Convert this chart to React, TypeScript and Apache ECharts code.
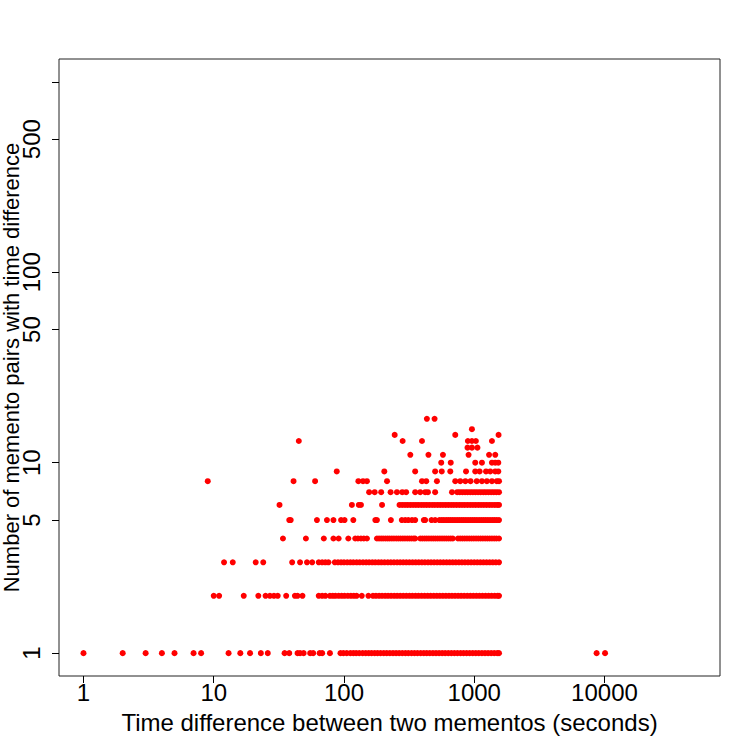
import React, { useEffect, useRef } from "react";
import * as echarts from "echarts";

// Number of memento pairs (y) observed for each time difference in seconds (x)
const timesCount1 = [1, 2, 3, 4, 5, 7, 8, 13, 16, 19, 23, 26, 35, 38, 44, 46, 49, 55, 58, 65, 68, 78,
  94, 99, 105, 112, 118, 124, 131, 139, 147, 155, 163, 172, 181, 191, 202, 213, 225, 238, 251, 265, 280,
  296, 312, 330, 348, 367, 388, 410, 432, 456, 482, 509, 537, 567, 598, 632, 667, 704, 743, 785, 828, 874,
  923, 974, 1028, 1085, 1146, 1210, 1277, 1348, 1423, 1500, 1550, 8700, 10100];
const timesCount2 = [10, 11, 17, 22, 25, 27, 29, 31, 36, 42, 44, 48, 64, 68, 72, 78, 82, 86, 91, 96, 101,
  107, 113, 119, 125, 137, 154, 167, 176, 186, 196, 207, 218, 230, 243, 256, 270, 285, 301, 318, 335, 354,
  373, 394, 416, 439, 463, 489, 516, 544, 574, 606, 640, 675, 712, 752, 793, 837, 884, 933, 984, 1039,
  1096, 1157, 1221, 1289, 1360, 1436, 1510, 1550];
const timesCount3 = [12, 14, 21, 24, 40, 46, 52, 57, 64, 68, 72, 76, 85, 90, 95, 100, 106, 112, 118, 125,
  132, 140, 148, 156, 165, 174, 184, 194, 205, 217, 229, 242, 256, 270, 285, 301, 318, 336, 355, 375, 396,
  418, 442, 466, 492, 520, 549, 580, 613, 647, 683, 721, 762, 804, 849, 897, 947, 1000, 1056, 1115, 1177,
  1243, 1313, 1386, 1464, 1550];
const timesCount4 = [34, 51, 70, 83, 91, 108, 122, 128, 135, 142, 150, 179, 186, 193, 200, 208, 216, 224,
  233, 242, 252, 262, 272, 283, 294, 306, 318, 330, 343, 352, 385, 400, 416, 432, 449, 467, 485, 504, 524,
  545, 566, 588, 611, 635, 660, 685, 750, 780, 812, 845, 880, 916, 953, 992, 1033, 1075, 1119, 1165, 1213,
  1262, 1314, 1368, 1424, 1482, 1550];
const timesCount5 = [38, 39, 62, 74, 83, 95, 101, 118, 174, 179, 229, 278, 295, 312, 333, 352, 410, 420,
  470, 501, 540, 563, 585, 609, 633, 658, 684, 711, 739, 768, 799, 830, 863, 897, 933, 970, 1008, 1048,
  1090, 1133, 1178, 1224, 1273, 1323, 1376, 1430, 1487, 1550];
const timesCount6 = [32, 115, 130, 135, 196, 267, 280, 294, 308, 323, 339, 356, 373, 392, 411, 431, 452,
  475, 498, 523, 548, 575, 604, 633, 665, 697, 732, 768, 806, 845, 887, 931, 977, 1025, 1076, 1129, 1185,
  1243, 1305, 1369, 1437, 1500, 1550];
const timesCount7 = [156, 172, 193, 228, 255, 280, 300, 352, 385, 420, 441, 501, 675, 740, 775, 812, 850,
  890, 932, 976, 1022, 1070, 1121, 1174, 1229, 1287, 1348, 1412, 1478, 1550];
const timesCount8 = [9, 41, 60, 129, 140, 150, 214, 397, 428, 517, 715, 781, 855, 937, 1045, 1146, 1250,
  1367, 1490, 1550];
const timesCount9 = [88, 204, 352, 501, 563, 655, 865, 1018, 1100, 1232, 1327, 1450, 1530];
const timesCount10 = [558, 660, 1018, 1146, 1367, 1450, 1530];
const timesCount11 = [323, 445, 575, 905, 1300, 1450];
const timesCount12 = [888, 960, 1058];
const timesCount13 = [45, 282, 397, 894, 960, 1030, 1367];
const timesCount14 = [245, 715, 1537];
const timesCount15 = [960];
const timesCount17 = [433, 496];

const pairCounts = [1, 2, 3, 4, 5, 6, 7, 8, 9, 10, 11, 12, 13, 14, 15, 17];
const timesByCount = [timesCount1, timesCount2, timesCount3, timesCount4, timesCount5, timesCount6,
  timesCount7, timesCount8, timesCount9, timesCount10, timesCount11, timesCount12, timesCount13,
  timesCount14, timesCount15, timesCount17];

const xTickValues = [1, 10, 100, 1000, 10000];
const yTickValues = [1, 5, 10, 50, 100, 500, 1000];
const yTickLabelsHidden = [1000];
const xLimits = [1, 50000];
const yLimits = [1, 1000];

export default function App() {
  const ref = useRef<HTMLDivElement>(null);
  useEffect(() => {
    if (!ref.current) return;
    const chart = echarts.init(ref.current, null, { renderer: "svg" });
    const points: number[][] = [];
    pairCounts.forEach((c, i) => timesByCount[i].forEach((t) => points.push([t, c])));

    // R-style 4% extension of the log range
    const lx0 = Math.log10(xLimits[0]), lx1 = Math.log10(xLimits[1]);
    const ly0 = Math.log10(yLimits[0]), ly1 = Math.log10(yLimits[1]);
    const ex = (lx1 - lx0) * 0.04, ey = (ly1 - ly0) * 0.04;
    const xMinL = lx0 - ex, xMaxL = lx1 + ex, yMinL = ly0 - ey, yMaxL = ly1 + ey;

    const font = "'Liberation Sans', Arial, Helvetica, sans-serif";
    const fmt = (v: number) => String(Math.round(Math.pow(10, v)));
    chart.setOption({
      animation: false,
      backgroundColor: "#ffffff",
      grid: {
        left: 59, right: 30, top: 59, bottom: 74,
        outerBoundsMode: "none",
        containLabel: false,
        show: true, borderColor: "#222", borderWidth: 1, backgroundColor: "transparent",
      },
      xAxis: [
        {
          type: "log", logBase: 10, min: Math.pow(10, xMinL), max: Math.pow(10, xMaxL),
          show: false, position: "bottom",
        },
        {
          type: "value", min: xMinL, max: xMaxL, position: "bottom",
          axisLine: { show: false },
          splitLine: { show: false },
          axisTick: {
            show: true, length: 7, inside: false,
            lineStyle: { color: "#000", width: 1 },
            customValues: xTickValues.map((v) => Math.log10(v)),
          },
          axisLabel: {
            show: true, margin: 4, fontSize: 24, color: "#000", fontFamily: font,
            customValues: xTickValues.map((v) => Math.log10(v)),
            formatter: fmt,
          },
          name: "Time difference between two mementos (seconds)",
          nameLocation: "middle", nameGap: 34, nameMoveOverlap: false,
          nameTextStyle: { fontSize: 24, color: "#000", fontFamily: font },
        },
      ],
      yAxis: [
        {
          type: "log", logBase: 10, min: Math.pow(10, yMinL), max: Math.pow(10, yMaxL),
          show: false, position: "left",
        },
        {
          type: "value", min: yMinL, max: yMaxL, position: "left",
          axisLine: { show: false },
          splitLine: { show: false },
          axisTick: {
            show: true, length: 7, inside: false,
            lineStyle: { color: "#000", width: 1 },
            customValues: yTickValues.map((v) => Math.log10(v)),
          },
          axisLabel: {
            show: true, margin: 16, fontSize: 24, color: "#000", fontFamily: font, rotate: 90,
            customValues: yTickValues.map((v) => Math.log10(v)),
            formatter: (v: number) => {
              const r = Math.round(Math.pow(10, v));
              return yTickLabelsHidden.includes(r) ? "" : String(r);
            },
          },
          name: "Number of memento pairs with time difference",
          nameLocation: "middle", nameGap: 37, nameMoveOverlap: false,
          nameTextStyle: { fontSize: 22, color: "#000", fontFamily: font },
        },
      ],
      series: [
        {
          type: "scatter", xAxisIndex: 0, yAxisIndex: 0,
          symbol: "circle", symbolSize: 6,
          itemStyle: { color: "#ff0000", opacity: 1 },
          data: points,
        },
      ],
    });
    return () => chart.dispose();
  }, []);
  return (
    <div
      ref={ref}
      style={{ position: "absolute", left: 0, top: 0, width: 750, height: 750 }}
    />
  );
}
